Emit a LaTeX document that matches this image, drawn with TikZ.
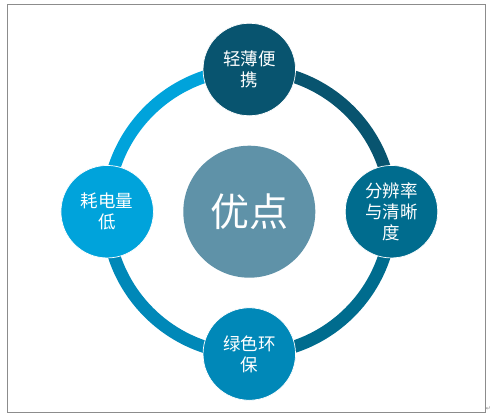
\documentclass[tikz,border=0pt]{standalone}
\usepackage{fontspec}
\usetikzlibrary{backgrounds}
\newfontfamily\cjk{Noto Sans CJK SC}
\newfontfamily\symfont{DejaVu Sans}
\definecolor{cLeft}{HTML}{00A3DB}
\definecolor{cTop}{HTML}{08546F}
\definecolor{cRight}{HTML}{006C8E}
\definecolor{cBottom}{HTML}{0088B8}
\definecolor{cCenter}{HTML}{5F92A8}
\definecolor{frame}{HTML}{8C8C8C}
\tikzset{
  x=1pt, y=-1pt,
  item/.style={circle, inner sep=0pt, minimum size=92.5pt, draw=white, line width=0.7pt,
    text=white, align=center, font=\cjk\fontsize{17.5}{21}\selectfont},
  hub/.style={circle, inner sep=0pt, minimum size=132pt, fill=cCenter,
    text=white, font=\cjk\fontsize{39}{40}\selectfont},
  ring/.style={line width=12.5pt}
}
\begin{document}
\begin{tikzpicture}
\useasboundingbox (0,0) rectangle (491,416);
\draw[frame, line width=0.8pt] (7,4) rectangle (485.5,412);
\node[text=frame, font=\symfont\fontsize{6}{6}\selectfont, inner sep=0pt] (mark) at (488.5,409) {↵};

\node[hub] (hub) at (249.3,211.7) {优点};
\node[item, fill=cTop] (top) at (249.3,69.5) {轻薄便\\携};
\node[item, fill=cRight] (right) at (391.5,211.7) {分辨率\\与清晰\\度};
\node[item, fill=cBottom] (bottom) at (249.3,354) {绿色环\\保};
\node[item, fill=cLeft] (left) at (107.2,211.7) {耗电量\\低};

\begin{pgfonlayer}{background}
\draw[ring, cLeft] (left.center) arc[start angle=180, end angle=90, radius=142.2pt];
\draw[ring, cTop] (top.center) arc[start angle=90, end angle=0, radius=142.2pt];
\draw[ring, cRight] (right.center) arc[start angle=0, end angle=-90, radius=142.2pt];
\draw[ring, cBottom] (bottom.center) arc[start angle=-90, end angle=-180, radius=142.2pt];
\end{pgfonlayer}
\end{tikzpicture}
\end{document}
